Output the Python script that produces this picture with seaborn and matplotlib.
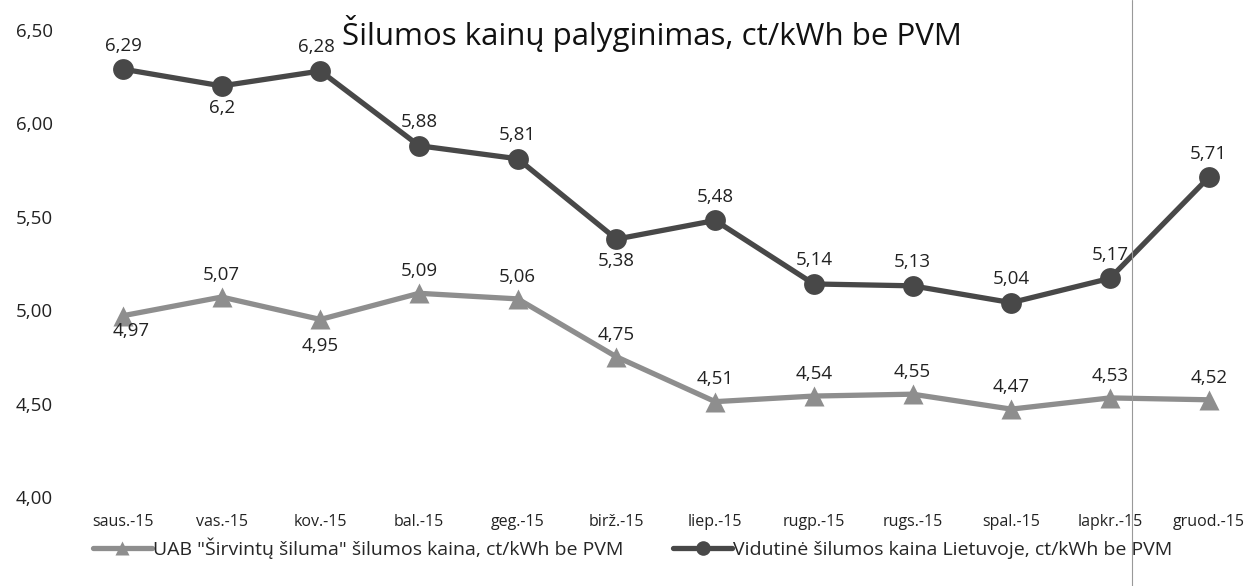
import pandas as pd
import matplotlib.pyplot as plt
import matplotlib.ticker as mticker
import seaborn as sns

months = ["saus.-15", "vas.-15", "kov.-15", "bal.-15", "geg.-15", "birž.-15",
          "liep.-15", "rugp.-15", "rugs.-15", "spal.-15", "lapkr.-15", "gruod.-15"]
sirvintu = [4.97, 5.07, 4.95, 5.09, 5.06, 4.75, 4.51, 4.54, 4.55, 4.47, 4.53, 4.52]
lietuva = [6.29, 6.2, 6.28, 5.88, 5.81, 5.38, 5.48, 5.14, 5.13, 5.04, 5.17, 5.71]
# label shown under the point?
sirvintu_below = [True, False, True] + [False] * 9
lietuva_below = [False, True, False, False, False, True] + [False] * 6

name_s = 'UAB "Širvintų šiluma" šilumos kaina, ct/kWh be PVM'
name_l = "Vidutinė šilumos kaina Lietuvoje, ct/kWh be PVM"

sns.set_style("white")
plt.rcParams['font.family'] = ['Open Sans', 'DejaVu Sans']

df = pd.DataFrame({"month": months * 2,
                   "price": sirvintu + lietuva,
                   "series": [name_s] * 12 + [name_l] * 12})

fig = plt.figure(figsize=(12.58, 5.86), dpi=100)
ax = fig.add_axes([0.0585, 0.152, 0.9415, 0.797])

sns.lineplot(data=df, x="month", y="price", hue="series", style="series",
             palette={name_s: "#8e8e8e", name_l: "#484848"},
             markers={name_s: "^", name_l: "o"}, dashes=False,
             linewidth=3.8, markersize=15, markeredgecolor="none", ax=ax)

def fmt(v):
    s = f"{v:.2f}".rstrip("0")
    return s.replace(".", ",")

for i, (v, b) in enumerate(zip(sirvintu, sirvintu_below)):
    dx, dy = (0, 16) if not b else (0, -19)
    if i == 0:
        dx, dy = (6, -11)
    ax.annotate(fmt(v), (i, v), xytext=(dx, dy), textcoords="offset points",
                ha="center", va="center", fontsize=13.5, color="#222222")
for i, (v, b) in enumerate(zip(lietuva, lietuva_below)):
    dx = -3 if i == 2 else 0
    ax.annotate(fmt(v), (i, v), xytext=(dx, -16 if b else 17), textcoords="offset points",
                ha="center", va="center", fontsize=13.5, color="#222222")

ax.set_xlim(-0.5, len(months) - 0.5)
ax.set_ylim(4.0, 6.5)
ax.set_yticks([4.0, 4.5, 5.0, 5.5, 6.0, 6.5])
ax.yaxis.set_major_formatter(mticker.FuncFormatter(lambda v, p: f"{v:.2f}".replace(".", ",")))
ax.tick_params(axis="y", labelsize=13.5, pad=15, length=0, labelcolor="#222222")
ax.tick_params(axis="x", labelsize=11.5, pad=12, length=0, labelcolor="#222222")
ax.set_xlabel("")
ax.set_ylabel("")
for sp in ax.spines.values():
    sp.set_visible(False)

fig.text(0.518, 0.942, "Šilumos kainų palyginimas, ct/kWh be PVM", fontsize=22.5,
         color="#111111", ha="center", va="center")

ax.legend(loc="center", bbox_to_anchor=(0.472, -0.109), ncol=2, frameon=False,
          fontsize=14, handlelength=3.0, handletextpad=0.05, columnspacing=2.6,
          markerscale=0.7)

# scan line on the right side
fig.add_artist(plt.Line2D([0.9, 0.9], [0, 1], transform=fig.transFigure,
                          color="#999999", linewidth=0.8))

plt.savefig("out.png", dpi=100)
